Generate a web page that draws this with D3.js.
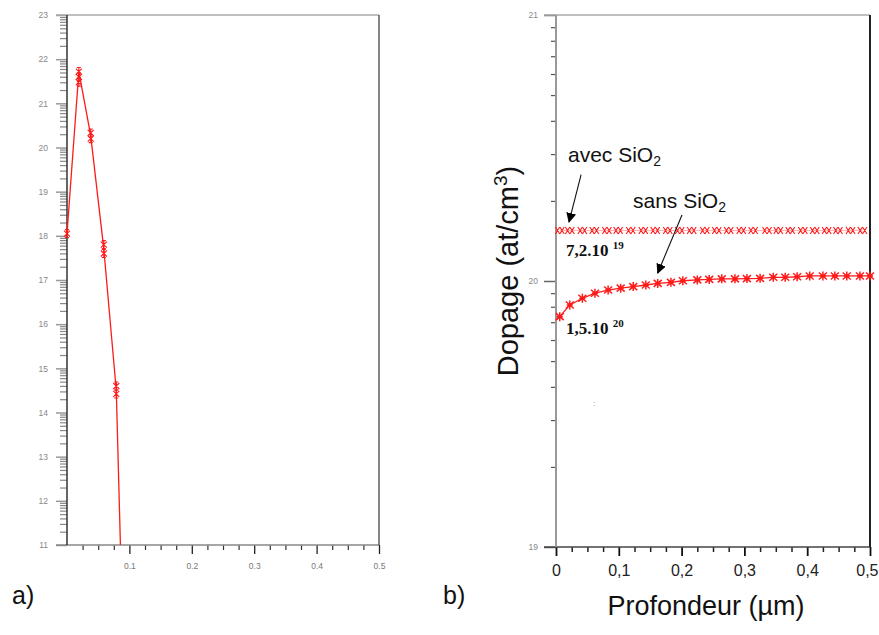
<!DOCTYPE html>
<html><head><meta charset="utf-8">
<script src="https://cdn.jsdelivr.net/npm/d3@7"></script>
<style>
body{margin:0;background:#fff;}
svg{display:block;font-family:"Liberation Sans",Arial,sans-serif;}
</style></head>
<body>
<svg id="c" width="879" height="635"></svg>
<script>
// ---- Panel a) data (exponent of concentration vs depth, µm)
const leftLineX = [0, 0.019, 0.038, 0.059, 0.079, 0.0856];
const leftLineY = [18.05, 21.72, 20.27, 17.7, 14.5, 11.0];
const leftMarkX = [0, 0.019, 0.019, 0.019, 0.038, 0.038, 0.059, 0.059, 0.079, 0.079];
const leftMarkY = [18.05, 21.72, 21.6, 21.48, 20.33, 20.2, 17.8, 17.6, 14.6, 14.42];
const leftXTicks = [0.1, 0.2, 0.3, 0.4, 0.5];
const leftXTickLabels = ["0.1", "0.2", "0.3", "0.4", "0.5"];
const leftYTicks = [11,12,13,14,15,16,17,18,19,20,21,22,23];

// ---- Panel b) data
const avecX = [0.006,0.022,0.042,0.061,0.081,0.099,0.119,0.139,0.158,0.178,0.197,0.216,0.237,0.256,0.275,0.295,0.314,0.336,0.354,0.373,0.393,0.412,0.431,0.449,0.469,0.488];
const avecY = [20.19,20.19,20.19,20.19,20.19,20.19,20.19,20.19,20.19,20.19,20.19,20.19,20.19,20.19,20.19,20.19,20.19,20.19,20.19,20.19,20.19,20.19,20.19,20.19,20.19,20.19];
const sansX = [0.006,0.022,0.042,0.062,0.083,0.103,0.123,0.143,0.162,0.183,0.202,0.225,0.244,0.264,0.285,0.304,0.325,0.346,0.365,0.384,0.404,0.425,0.444,0.463,0.484,0.5];
const sansY = [19.866,19.910,19.935,19.954,19.966,19.973,19.979,19.985,19.991,19.995,20.001,20.004,20.006,20.008,20.008,20.009,20.010,20.014,20.014,20.016,20.019,20.019,20.019,20.019,20.019,20.019];
const rightXTicks = [0, 0.1, 0.2, 0.3, 0.4, 0.5];
const rightXTickLabels = ["0", "0,1", "0,2", "0,3", "0,4", "0,5"];
const rightYTicks = [19, 20, 21];

const svg = d3.select("#c");
const red = "#ff1a1a";

function logMinors(lo, hi){ const r=[]; for(let n=lo;n<hi;n++){for(let k=2;k<=9;k++) r.push(n+Math.log10(k));} return r; }
function quarterMinors(){ const r=[]; for(let i=1;i<20;i++){ if(i%4!==0) r.push(i*0.025);} return r; }

// ================= Panel a =================
const xL = d3.scaleLinear().domain([0,0.5]).range([67,379]);
const yL = d3.scaleLinear().domain([11,23]).range([545,15]);
const gA = svg.append("g");

gA.append("g").attr("transform",`translate(${xL(0)},0)`)
  .call(d3.axisLeft(yL).tickValues(logMinors(11,23)).tickSize(7).tickFormat(""))
  .call(g=>{g.select(".domain").remove(); g.selectAll("line").attr("stroke","#888").attr("stroke-width",1.2);});
gA.append("g").attr("transform",`translate(${xL(0)},0)`)
  .call(d3.axisLeft(yL).tickValues(leftYTicks).tickSize(11).tickPadding(8).tickFormat(d3.format("d")))
  .call(g=>{g.select(".domain").remove(); g.selectAll("line").attr("stroke","#999").attr("stroke-width",1.5);
            g.selectAll("text").attr("fill","#888").attr("font-size",8.5).attr("font-family","Liberation Sans, Arial");});
gA.append("g").attr("transform",`translate(0,${yL(11)})`)
  .call(d3.axisBottom(xL).tickValues(quarterMinors()).tickSize(5).tickFormat(""))
  .call(g=>{g.select(".domain").remove(); g.selectAll("line").attr("stroke","#333").attr("stroke-width",1.2);});
gA.append("g").attr("transform",`translate(0,${yL(11)})`)
  .call(d3.axisBottom(xL).tickValues(leftXTicks).tickSize(9).tickPadding(9).tickFormat((d,i)=>leftXTickLabels[i]))
  .call(g=>{g.select(".domain").remove(); g.selectAll("line").attr("stroke","#222").attr("stroke-width",1.3);
            g.selectAll("text").attr("fill","#777").attr("font-size",8.5).attr("font-family","Liberation Sans, Arial");});
gA.append("line").attr("x1",56).attr("x2",xL(0.5)).attr("y1",yL(23)).attr("y2",yL(23)).attr("stroke","#aaa").attr("stroke-width",1.5);
gA.append("line").attr("x1",56).attr("x2",xL(0.5)).attr("y1",yL(11)).attr("y2",yL(11)).attr("stroke","#888").attr("stroke-width",1.5);
gA.append("line").attr("x1",xL(0)).attr("x2",xL(0)).attr("y1",yL(23)).attr("y2",yL(11)).attr("stroke","#333").attr("stroke-width",1.5);
gA.append("line").attr("x1",xL(0.5)).attr("x2",xL(0.5)).attr("y1",yL(23)).attr("y2",yL(11)).attr("stroke","#444").attr("stroke-width",1.3);

const leftLine = leftLineX.map((x,i)=>[x,leftLineY[i]]);
gA.append("path").datum(leftLine)
  .attr("d", d3.line().x(d=>xL(d[0])).y(d=>yL(d[1])))
  .attr("fill","none").attr("stroke",red).attr("stroke-width",1.3);
const leftMarks = leftMarkX.map((x,i)=>[x,leftMarkY[i]]);
const starA = "M-3,-3L3,3M-3,3L3,-3M0,-4L0,4M-2,-4L2,-4M-2,4L2,4";
gA.selectAll(".ma").data(leftMarks).join("path").attr("class","ma")
  .attr("transform",d=>`translate(${xL(d[0])},${yL(d[1])})`)
  .attr("d",starA).attr("fill","none").attr("stroke",red).attr("stroke-width",1.1);

svg.append("text").attr("x",12).attr("y",604).attr("font-size",25).attr("fill","#111").text("a)");

// ================= Panel b =================
const xR = d3.scaleLinear().domain([0,0.5]).range([556,870]);
const yR = d3.scaleLinear().domain([19,21]).range([547,15]);
const gB = svg.append("g");

gB.append("g").attr("transform",`translate(${xR(0)},0)`)
  .call(d3.axisLeft(yR).tickValues(logMinors(19,21)).tickSize(5).tickFormat(""))
  .call(g=>{g.select(".domain").remove(); g.selectAll("line").attr("stroke","#555").attr("stroke-width",1.2);});
gB.append("g").attr("transform",`translate(${xR(0)},0)`)
  .call(d3.axisLeft(yR).tickValues(rightYTicks).tickSize(12).tickPadding(6).tickFormat(d3.format("d")))
  .call(g=>{g.select(".domain").remove(); g.selectAll("line").attr("stroke","#666").attr("stroke-width",1.5);
            g.selectAll("text").attr("fill","#888").attr("font-size",8.5).attr("font-family","Liberation Sans, Arial");});
gB.append("g").attr("transform",`translate(0,${yR(19)})`)
  .call(d3.axisBottom(xR).tickValues(quarterMinors()).tickSize(5).tickFormat(""))
  .call(g=>{g.select(".domain").remove(); g.selectAll("line").attr("stroke","#222").attr("stroke-width",1.5);});
gB.append("g").attr("transform",`translate(0,${yR(19)})`)
  .call(d3.axisBottom(xR).tickValues(rightXTicks).tickSize(9).tickPadding(9).tickFormat((d,i)=>rightXTickLabels[i]))
  .call(g=>{g.select(".domain").remove(); g.selectAll("line").attr("stroke","#111").attr("stroke-width",1.8);
            g.selectAll("text").attr("fill","#222").attr("font-size",16).attr("font-family","Liberation Sans, Arial");
            g.selectAll("text").filter(d=>d===0.5).attr("text-anchor","end").attr("x",8);});
gB.append("line").attr("x1",544).attr("x2",xR(0.5)).attr("y1",yR(21)).attr("y2",yR(21)).attr("stroke","#aaa").attr("stroke-width",1.5);
gB.append("line").attr("x1",544).attr("x2",xR(0.5)).attr("y1",yR(19)).attr("y2",yR(19)).attr("stroke","#444").attr("stroke-width",1.5);
gB.append("line").attr("x1",xR(0)).attr("x2",xR(0)).attr("y1",yR(21)).attr("y2",yR(19)).attr("stroke","#999").attr("stroke-width",2);
gB.append("line").attr("x1",xR(0.5)).attr("x2",xR(0.5)).attr("y1",yR(21)).attr("y2",yR(19)).attr("stroke","#222").attr("stroke-width",2);

// avec SiO2 series
const avec = avecX.map((x,i)=>[x,avecY[i]]);
gB.append("path").datum(avec).attr("d", d3.line().x(d=>xR(d[0])).y(d=>yR(d[1])))
  .attr("fill","none").attr("stroke",red).attr("stroke-width",0.7).attr("opacity",0.5);
const dblX = "M-4.5,-3.5L0,3.5M-4.5,3.5L0,-3.5M0,-3.5L4.5,3.5M0,3.5L4.5,-3.5";
gB.selectAll(".mv").data(avec).join("path").attr("class","mv")
  .attr("transform",d=>`translate(${xR(d[0])},${yR(d[1])})`)
  .attr("d",dblX).attr("fill","none").attr("stroke",red).attr("stroke-width",1.1);

// sans SiO2 series
const sans = sansX.map((x,i)=>[x,sansY[i]]);
gB.append("path").datum([[0.001,19.855]].concat(sans)).attr("d", d3.line().x(d=>xR(d[0])).y(d=>yR(d[1])))
  .attr("fill","none").attr("stroke",red).attr("stroke-width",1.3);
const starB = "M-4,-3.5L4,3.5M-4,3.5L4,-3.5M0,-4.5L0,4.5M-3,0L3,0";
gB.selectAll(".ms").data(sans).join("path").attr("class","ms")
  .attr("transform",d=>`translate(${xR(d[0])},${yR(d[1])})`)
  .attr("d",starB).attr("fill","none").attr("stroke",red).attr("stroke-width",1.5);

// annotations
const defs = svg.append("defs");
defs.append("marker").attr("id","ah").attr("viewBox","0 0 10 10").attr("refX",9).attr("refY",5)
  .attr("markerWidth",10).attr("markerHeight",10).attr("markerUnits","userSpaceOnUse").attr("orient","auto")
  .append("path").attr("d","M0,0L10,5L0,10Z").attr("fill","#000");
gB.append("line").attr("x1",xR(0.040)).attr("y1",yR(20.40)).attr("x2",xR(0.0207)).attr("y2",yR(20.222))
  .attr("stroke","#111").attr("stroke-width",1.1).attr("marker-end","url(#ah)");
gB.append("line").attr("x1",xR(0.2006)).attr("y1",yR(20.248)).attr("x2",xR(0.162)).attr("y2",yR(20.03))
  .attr("stroke","#111").attr("stroke-width",1.1).attr("marker-end","url(#ah)");

function sio2(x,y,prefix){
  const t = svg.append("text").attr("x",x).attr("y",y).attr("font-size",21).attr("fill","#111");
  t.append("tspan").text(prefix+"SiO");
  t.append("tspan").attr("font-size",14).attr("dy",4).text("2");
}
sio2(568,162,"avec ");
sio2(633,208,"sans ");

function sci(x,y,base,exp){
  const t = svg.append("text").attr("x",x).attr("y",y).attr("font-family","Liberation Serif, Times New Roman, serif")
    .attr("font-weight","bold").attr("font-size",17).attr("fill","#111");
  t.append("tspan").text(base+" ");
  t.append("tspan").attr("font-size",11).attr("dy",-7).text(exp);
}
sci(566,256,"7,2.10","19");
sci(566,334,"1,5.10","20");

svg.append("text").attr("x",593).attr("y",406).attr("font-size",8).attr("fill","#888").text(":");

// axis titles
const yt = svg.append("text").attr("transform","translate(518,271) rotate(-90)").attr("text-anchor","middle")
  .attr("font-size",29).attr("fill","#111");
yt.append("tspan").text("Dopage (at/cm");
yt.append("tspan").attr("font-size",19).attr("dy",-11).text("3");
yt.append("tspan").attr("dy",11).text(")");
svg.append("text").attr("x",706).attr("y",615).attr("text-anchor","middle").attr("font-size",27).attr("fill","#111")
  .text("Profondeur (µm)");
svg.append("text").attr("x",443).attr("y",604).attr("font-size",25).attr("fill","#111").text("b)");
</script>
</body></html>
